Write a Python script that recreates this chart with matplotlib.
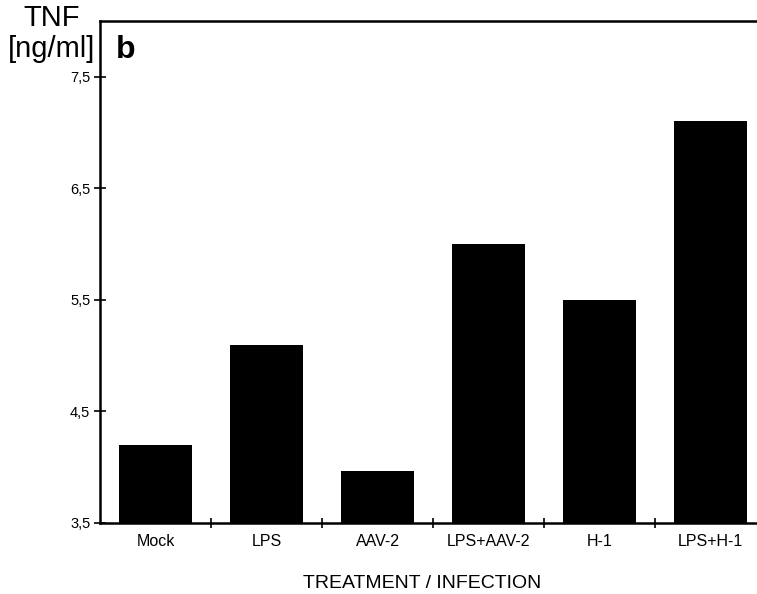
import matplotlib
matplotlib.use("Agg")
import matplotlib.pyplot as plt

categories = ["Mock", "LPS", "AAV-2", "LPS+AAV-2", "H-1", "LPS+H-1"]
tnf_values = [4.2, 5.1, 3.97, 6.0, 5.5, 7.1]
yticks = [3.5, 4.5, 5.5, 6.5, 7.5]
ytick_labels = ["3,5", "4,5", "5,5", "6,5", "7,5"]

plt.rcParams['font.family'] = ['Liberation Sans', 'DejaVu Sans']

fig = plt.figure(figsize=(7.57, 5.94), dpi=100)
W, H = 757, 594
left_px, right_px, top_px, bot_px = 100, 766, 21, 523
ax = fig.add_axes([left_px / W, 1 - bot_px / H, (right_px - left_px) / W, (bot_px - top_px) / H])

x = list(range(len(categories)))
ax.bar(x, [v - 3.5 for v in tnf_values], bottom=3.5, width=0.66, color='black')

ax.set_xlim(-0.5, len(categories) - 0.5)
ax.set_ylim(3.5, 8.0)
ax.set_yticks(yticks)
ax.set_yticklabels(ytick_labels, fontsize=10.5)

# category labels at bar centers, ticks at boundaries
ax.set_xticks([i + 0.5 for i in range(len(categories) - 1)])
ax.set_xticklabels([])
ax.set_xticks(x, minor=True)
ax.set_xticklabels(categories, minor=True, fontsize=11.5)
ax.tick_params(axis='x', which='minor', length=0, pad=8)
ax.tick_params(axis='x', which='major', direction='inout', length=7, width=1.2)
ax.tick_params(axis='y', direction='inout', length=8, width=1.2, pad=3)

ax.spines['right'].set_visible(False)
for s in ['left', 'top', 'bottom']:
    ax.spines[s].set_linewidth(1.8)

fig.text(52 / W, 1 - 18 / H, "TNF", fontsize=21, ha='center', va='center')
fig.text(52 / W, 1 - 49 / H, "[ng/ml]", fontsize=21, ha='center', va='center')
fig.text(116 / W, 1 - 50 / H, "b", fontsize=23, fontweight='bold', ha='left', va='center')
fig.text(422 / W, 1 - 583 / H, "TREATMENT / INFECTION", fontsize=14, ha='center', va='center')

fig.savefig("out.png", dpi=100)
